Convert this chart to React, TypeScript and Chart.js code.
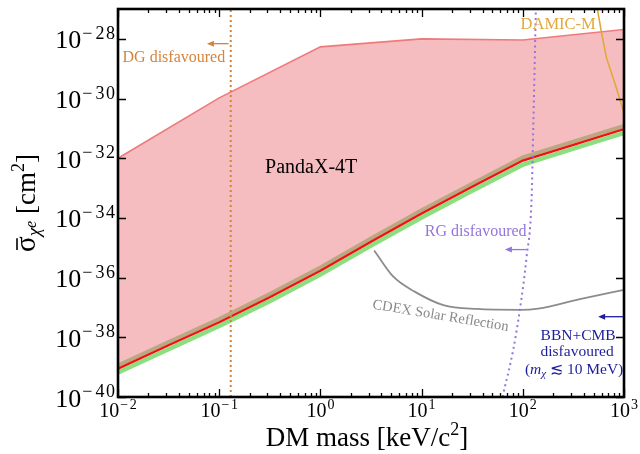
import React, { useEffect, useRef } from "react";
import { Chart, registerables } from "chart.js";

Chart.register(...registerables);

const SERIF = '"Liberation Serif", "Times New Roman", "DejaVu Serif", serif';

// ---- data (DM mass in keV/c^2, cross section in cm^2) ----
// PandaX-4T excluded region: upper edge
const upperMass = [0.01, 0.1, 1, 10, 100, 1000];
const upperSigma = [1e-32, 1.05e-30, 5.4e-29, 1e-28, 9.2e-29, 2.05e-28];

// PandaX-4T limit (red) with its bands
const limitMass = [0.01, 0.0316, 0.1, 0.316, 1, 3.16, 10, 31.6, 100, 316, 1000];
const limitSigma = [8.9e-40, 5.4e-39, 3.2e-38, 2.2e-37, 1.7e-36, 1.6e-35, 1.4e-34, 1.1e-33, 8.3e-33, 2.8e-32, 9.5e-32];
const bandUpperSigma = [1.13e-39, 6.9e-39, 4.1e-38, 2.8e-37, 2.2e-36, 2.05e-35, 1.8e-34, 1.4e-33, 1.06e-32, 3.6e-32, 1.21e-31];
const bandLowerSigma = [6.6e-40, 4.0e-39, 2.4e-38, 1.63e-37, 1.26e-36, 1.18e-35, 1.04e-34, 8.1e-34, 6.1e-33, 2.1e-32, 7.0e-32];

// DG disfavoured boundary
const dgMass = [0.13, 0.13];
const dgSigma = [1e-40, 1e-27];

// RG disfavoured boundary
const rgMass = [63, 80.4, 93.5, 109, 122, 126.8, 134.6];
const rgSigma = [1e-40, 3.8e-39, 8.3e-38, 5e-36, 4.1e-34, 9.1e-32, 1e-27];

// DAMIC-M
const damicMass = [540, 547, 600, 671, 811, 914, 1000];
const damicSigma = [1.3e-27, 9.5e-28, 1.6e-28, 2.3e-29, 3.3e-30, 9.1e-31, 3.2e-31];

// CDEX Solar Reflection
const cdexMass = [3.4, 5.26, 8.53, 16.4, 35, 93.5, 142, 366, 1000];
const cdexSigma = [8.1e-36, 1.07e-36, 3.4e-37, 1.2e-37, 8.9e-38, 8.3e-38, 9.1e-38, 1.9e-37, 3.9e-37];

// ticks
const xTickExps = [-2, -1, 0, 1, 2, 3];
const yTickExps = [-40, -38, -36, -34, -32, -30, -28];

const xy = (xs: number[], ys: number[]) => xs.map((x, i) => ({ x, y: ys[i] }));

type Part = { t: string; size: number; dy?: number; dx?: number; italic?: boolean };
const fontOf = (p: Part) => `${p.italic ? "italic " : ""}${p.size}px ${SERIF}`;

function richWidth(ctx: CanvasRenderingContext2D, parts: Part[]) {
  let w = 0;
  for (const p of parts) {
    ctx.font = fontOf(p);
    w += (p.dx || 0) + ctx.measureText(p.t).width;
  }
  return w;
}

function drawRich(
  ctx: CanvasRenderingContext2D,
  parts: Part[],
  x: number,
  y: number,
  align: "left" | "center" | "right",
  color: string
) {
  const w = richWidth(ctx, parts);
  let cx = align === "left" ? x : align === "center" ? x - w / 2 : x - w;
  ctx.textAlign = "left";
  ctx.textBaseline = "alphabetic";
  ctx.fillStyle = color;
  const starts: number[] = [];
  for (const p of parts) {
    ctx.font = fontOf(p);
    cx += p.dx || 0;
    starts.push(cx);
    ctx.fillText(p.t, cx, y + (p.dy || 0));
    cx += ctx.measureText(p.t).width;
  }
  return starts;
}

// power-of-ten label parts: "10" then the exponent characters, spaced like TeX math
function powParts(e: number, base: number, supSize: number, rise: number, gap: number): Part[] {
  const parts: Part[] = [{ t: "10", size: base }];
  if (e < 0) parts.push({ t: "\u2212", size: supSize, dy: -rise, dx: 1 });
  const digits = String(Math.abs(e));
  for (let i = 0; i < digits.length; i++) {
    parts.push({
      t: digits[i],
      size: supSize,
      dy: -rise,
      dx: i === 0 ? (e < 0 ? gap : 1) : gap / 2,
    });
  }
  return parts;
}

function arrowLeft(ctx: CanvasRenderingContext2D, x1: number, x2: number, y: number, color: string) {
  ctx.strokeStyle = color;
  ctx.fillStyle = color;
  ctx.lineWidth = 1.3;
  ctx.setLineDash([]);
  ctx.beginPath();
  ctx.moveTo(x1, y);
  ctx.lineTo(x2 + 4, y);
  ctx.stroke();
  ctx.beginPath();
  ctx.moveTo(x2, y);
  ctx.lineTo(x2 + 7, y - 3);
  ctx.lineTo(x2 + 7, y + 3);
  ctx.closePath();
  ctx.fill();
}

const overlay = {
  id: "overlay",
  afterDatasetsDraw(chart: any) {
    const ctx: CanvasRenderingContext2D = chart.ctx;
    const a = chart.chartArea;
    const xs = chart.scales.x;
    const ys = chart.scales.y;
    const px = (v: number) => xs.getPixelForValue(v);
    const py = (v: number) => ys.getPixelForValue(v);
    ctx.save();
    ctx.setLineDash([]);

    // ticks
    ctx.strokeStyle = "#000";
    ctx.lineWidth = 1.3;
    ctx.beginPath();
    for (let d = xTickExps[0]; d <= xTickExps[xTickExps.length - 1]; d++) {
      for (let m = 1; m <= 9; m++) {
        if (d === xTickExps[xTickExps.length - 1] && m > 1) break;
        const X = Math.round(px(m * Math.pow(10, d))) + 0.5;
        const len = m === 1 ? 8 : 4;
        ctx.moveTo(X, a.bottom);
        ctx.lineTo(X, a.bottom - len);
        ctx.moveTo(X, a.top);
        ctx.lineTo(X, a.top + len);
      }
    }
    for (const e of yTickExps) {
      const Y = Math.round(py(Math.pow(10, e))) + 0.5;
      ctx.moveTo(a.left, Y);
      ctx.lineTo(a.left + 8, Y);
      ctx.moveTo(a.right, Y);
      ctx.lineTo(a.right - 8, Y);
    }
    ctx.stroke();

    // frame
    ctx.lineWidth = 2.6;
    ctx.strokeRect(a.left, a.top, a.right - a.left, a.bottom - a.top);

    // tick labels
    for (const e of yTickExps) {
      const Y = py(Math.pow(10, e));
      drawRich(ctx, powParts(e, 26, 18, 9.5, 3), a.left - 3, Y + 9.5, "right", "#000");
    }
    for (const e of xTickExps) {
      const X = px(Math.pow(10, e));
      drawRich(ctx, powParts(e, 20, 14, 8, 1.5), X, a.bottom + 20, "center", "#000");
    }

    // axis titles
    drawRich(
      ctx,
      [
        { t: "DM mass [keV/c", size: 27 },
        { t: "2", size: 18, dy: -11 },
        { t: "]", size: 27 },
      ],
      367,
      446,
      "center",
      "#000"
    );
    ctx.save();
    ctx.translate(35, 203);
    ctx.rotate(-Math.PI / 2);
    const yParts: Part[] = [
      { t: "\u03c3", size: 29 },
      { t: "\u03c7", size: 19, dy: 5, italic: true },
      { t: "e", size: 16, dy: 1, italic: true },
      { t: " [cm", size: 27 },
      { t: "2", size: 18, dy: -11 },
      { t: "]", size: 27 },
    ];
    const starts = drawRich(ctx, yParts, 0, 0, "center", "#000");
    ctx.font = fontOf(yParts[0]);
    const sw = ctx.measureText("\u03c3").width;
    ctx.strokeStyle = "#000";
    ctx.lineWidth = 1.6;
    ctx.beginPath();
    ctx.moveTo(starts[0] + 2, -18);
    ctx.lineTo(starts[0] + sw - 2, -18);
    ctx.stroke();
    ctx.restore();

    // annotations
    ctx.textBaseline = "middle";
    ctx.font = `16px ${SERIF}`;
    ctx.fillStyle = "#d4843c";
    ctx.textAlign = "right";
    ctx.fillText("DG disfavoured", px(0.1146), py(2.35e-29));
    arrowLeft(ctx, px(0.1236), px(0.0757), py(6.9e-29), "#d4843c");

    ctx.textBaseline = "middle";
    ctx.font = `16.5px ${SERIF}`;
    ctx.fillStyle = "#e2a83c";
    ctx.textAlign = "left";
    ctx.fillText("DAMIC-M", px(95), py(3.0e-28));

    ctx.font = `16px ${SERIF}`;
    ctx.fillStyle = "#9575dc";
    ctx.textAlign = "right";
    ctx.fillText("RG disfavoured", px(109), py(3.3e-35));
    arrowLeft(ctx, px(109), px(66.5), py(8.7e-36), "#9575dc");

    ctx.textBaseline = "middle";
    ctx.font = `20px ${SERIF}`;
    ctx.fillStyle = "#000";
    ctx.textAlign = "left";
    ctx.fillText("PandaX-4T", px(0.284), py(4.8e-33));

    ctx.save();
    ctx.translate(px(15.4), py(5.2e-38));
    ctx.rotate((9.4 * Math.PI) / 180);
    ctx.font = `14.5px ${SERIF}`;
    ctx.fillStyle = "#8a8a8a";
    ctx.textAlign = "center";
    ctx.textBaseline = "middle";
    ctx.fillText("CDEX Solar Reflection", 0, 0);
    ctx.restore();

    const navy = "#1d1d9c";
    arrowLeft(ctx, px(980), px(555), py(4.9e-38), navy);
    const bx = px(352);
    const by = py(1.1e-38);
    ctx.textBaseline = "middle";
    ctx.textAlign = "center";
    ctx.font = `15.5px ${SERIF}`;
    ctx.fillStyle = navy;
    ctx.fillText("BBN+CMB", bx, by);
    ctx.fillText("disfavoured", bx - 1, by + 16);
    ctx.textBaseline = "alphabetic";
    drawRich(
      ctx,
      [
        { t: "(", size: 15.5 },
        { t: "m", size: 15.5, italic: true },
        { t: "\u03c7", size: 11, dy: 3, italic: true },
        { t: " \u2272 10 MeV)", size: 15.5 },
      ],
      bx - 4,
      by + 38,
      "center",
      navy
    );

    ctx.restore();
  },
};

export default function App() {
  const ref = useRef<HTMLCanvasElement | null>(null);
  useEffect(() => {
    if (!ref.current) return;
    const chart = new Chart(ref.current, {
      type: "line",
      data: {
        datasets: [
          {
            label: "PandaX-4T region",
            data: xy(upperMass, upperSigma),
            borderColor: "#f07a7a",
            borderWidth: 1.6,
            backgroundColor: "rgb(245,189,192)",
            fill: 1,
            order: 10,
          },
          {
            label: "band upper",
            data: xy(limitMass, bandUpperSigma),
            borderColor: "rgb(186,168,130)",
            borderWidth: 4,
            fill: false,
            order: 8,
          },
          {
            label: "band lower",
            data: xy(limitMass, bandLowerSigma),
            borderColor: "rgb(140,222,126)",
            borderWidth: 4.5,
            fill: false,
            order: 9,
          },
          {
            label: "PandaX-4T limit",
            data: xy(limitMass, limitSigma),
            borderColor: "rgb(240,16,16)",
            borderWidth: 2.2,
            fill: false,
            order: 7,
          },
          {
            label: "CDEX Solar Reflection",
            data: xy(cdexMass, cdexSigma),
            borderColor: "#8c8c8c",
            borderWidth: 1.8,
            cubicInterpolationMode: "monotone",
            fill: false,
            order: 6,
          },
          {
            label: "DG disfavoured",
            data: xy(dgMass, dgSigma),
            borderColor: "#d4843c",
            borderWidth: 2,
            borderDash: [2, 3],
            fill: false,
            order: 5,
          },
          {
            label: "RG disfavoured",
            data: xy(rgMass, rgSigma),
            borderColor: "#9575dc",
            borderWidth: 2,
            borderDash: [2, 3.5],
            cubicInterpolationMode: "monotone",
            fill: false,
            order: 4,
          },
          {
            label: "DAMIC-M",
            data: xy(damicMass, damicSigma),
            borderColor: "#e2a83c",
            borderWidth: 1.6,
            fill: false,
            order: 3,
          },
        ],
      },
      options: {
        animation: false,
        responsive: false,
        maintainAspectRatio: false,
        layout: { padding: { left: 118, right: 16, top: 9, bottom: 57 } },
        plugins: { legend: { display: false }, tooltip: { enabled: false } },
        elements: { point: { radius: 0 }, line: { tension: 0 } },
        scales: {
          x: { type: "logarithmic", min: 0.01, max: 1000, display: false },
          y: { type: "logarithmic", min: 1e-40, max: 1e-27, display: false },
        },
      } as any,
      plugins: [overlay],
    });
    return () => chart.destroy();
  }, []);
  return (
    <div style={{ position: "fixed", left: 0, top: 0, width: 640, height: 454, background: "#fff" }}>
      <canvas ref={ref} width={640} height={454} style={{ width: 640, height: 454, display: "block" }} />
    </div>
  );
}
